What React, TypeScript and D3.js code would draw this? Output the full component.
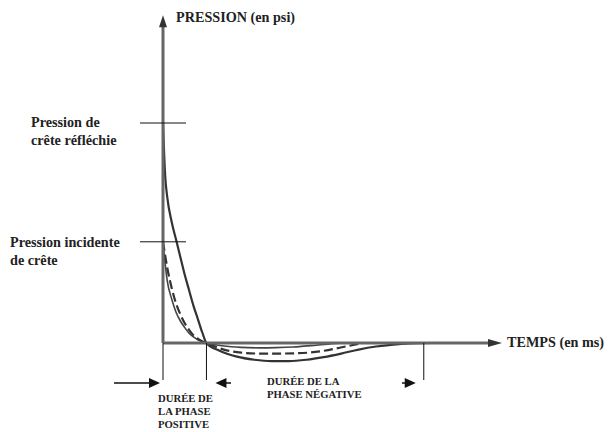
import React from "react";
import * as d3 from "d3";

const reflectedT = [0, 0.05, 0.1, 0.2, 0.3, 0.4, 0.5, 0.6, 0.7, 0.8, 0.9, 1.0, 1.3, 1.7, 2.1, 2.5, 2.9, 3.3, 3.7, 4.1, 4.5, 4.9, 5.3, 5.7, 6.2];
const reflectedP = [100, 76, 66, 55, 47, 39, 31, 24, 17, 11, 5, 0, -3.5, -6.2, -7.6, -8.2, -8.2, -7.6, -6.4, -4.8, -3, -1.6, -0.7, -0.2, 0];
const incidentT = [0, 0.1, 0.2, 0.3, 0.4, 0.5, 0.6, 0.7, 0.8, 0.9, 1.0, 1.4, 1.8, 2.2, 2.6, 3.0, 3.4, 3.8, 4.2, 4.6];
const incidentP = [46, 34, 25, 18, 13, 9, 6, 3.5, 2, 0.8, 0, -3, -4.4, -4.8, -4.8, -4.7, -4.3, -3.2, -1.6, 0];
const innerT = [0, 0.05, 0.1, 0.2, 0.3, 0.4, 0.5, 0.6, 0.7, 0.8, 0.9, 1.0, 1.4, 1.8, 2.2, 2.6, 3.0, 3.4, 3.8, 4.2];
const innerP = [46, 36, 28, 20, 14, 10, 7, 4.5, 2.8, 1.5, 0.6, 0, -1.4, -2, -2.2, -2.1, -1.8, -1.2, -0.5, 0];
const peakTicks = [100, 46];
const phaseMarks = [0, 1, 6];
const tMax = 7.8;
const pMax = 149;

export default function App() {
  const x = d3.scaleLinear().domain([0, tMax]).range([163, 502]);
  const y = d3.scaleLinear().domain([0, 100]).range([343, 123]);
  const line = d3.line<[number, number]>().x(d => x(d[0])).y(d => y(d[1])).curve(d3.curveMonotoneX);
  const mk = (ts: number[], ps: number[]) => ts.map((t, i) => [t, ps[i]] as [number, number]);
  const font = "Liberation Serif";
  const y0 = y(0);
  const yArrow = 383;
  const big = { fontFamily: font, fontWeight: 700, fontSize: 14.2, fill: "#222" };
  const small = { fontFamily: font, fontWeight: 700, fontSize: 10.7, fill: "#222" };
  return (
    <svg width={608} height={432} style={{ position: "absolute", left: 0, top: 0, background: "#fff" }}>
      {/* curves */}
      <path d={line(mk(reflectedT, reflectedP)) || ""} fill="none" stroke="#333" strokeWidth={2.2} />
      <path d={line(mk(innerT, innerP)) || ""} fill="none" stroke="#444" strokeWidth={1.6} />
      <path d={line(mk(incidentT, incidentP)) || ""} fill="none" stroke="#333" strokeWidth={2.2} strokeDasharray="9,4" />
      {/* axes */}
      <line x1={x(0)} x2={x(0)} y1={y0} y2={y(pMax) + 8} stroke="#666" strokeWidth={3} />
      <path d={`M${x(0)},${y(pMax)} L${x(0) - 4},${y(pMax) + 12} L${x(0) + 4},${y(pMax) + 12} Z`} fill="#333" />
      <line x1={x(0)} x2={x(tMax) - 10} y1={y0} y2={y0} stroke="#666" strokeWidth={3} />
      <path d={`M${x(tMax)},${y0} L${x(tMax) - 14},${y0 - 4} L${x(tMax) - 14},${y0 + 4} Z`} fill="#333" />
      <text x={x(tMax) + 5} y={y0 + 4} {...big}>TEMPS (en ms)</text>
      <text x={176} y={22} {...big}>PRESSION (en psi)</text>
      {/* peak ticks */}
      {peakTicks.map(p => (
        <line key={p} x1={140} x2={186} y1={y(p)} y2={y(p)} stroke="#111" strokeWidth={1} />
      ))}
      <text x={31} y={127} {...big}>Pression de</text>
      <text x={31} y={145} {...big}>crête réfléchie</text>
      <text x={10} y={247} {...big}>Pression incidente</text>
      <text x={10} y={265} {...big}>de crête</text>
      {/* phase marks */}
      {phaseMarks.map(t => (
        <line key={t} x1={x(t)} x2={x(t)} y1={y0} y2={yArrow - 3} stroke="#111" strokeWidth={1} />
      ))}
      <line x1={114} x2={150} y1={yArrow} y2={yArrow} stroke="#111" strokeWidth={1.5} />
      <path d={`M${x(0) - 3},${yArrow} L${x(0) - 14},${yArrow - 5} L${x(0) - 14},${yArrow + 5} Z`} fill="#111" />
      <line x1={222} x2={231} y1={yArrow} y2={yArrow} stroke="#111" strokeWidth={1.5} />
      <path d={`M${x(1) + 9},${yArrow} L${x(1) + 20},${yArrow - 5} L${x(1) + 20},${yArrow + 5} Z`} fill="#111" />
      <line x1={402} x2={410} y1={yArrow} y2={yArrow} stroke="#111" strokeWidth={1.5} />
      <path d={`M${x(6) - 8},${yArrow} L${x(6) - 19},${yArrow - 5} L${x(6) - 19},${yArrow + 5} Z`} fill="#111" />
      <text x={158} y={402} {...small}>DURÉE DE</text>
      <text x={158} y={415} {...small}>LA PHASE</text>
      <text x={158} y={428} {...small}>POSITIVE</text>
      <text x={267} y={385} {...small}>DURÉE DE LA</text>
      <text x={267} y={398} {...small}>PHASE NÉGATIVE</text>
    </svg>
  );
}
